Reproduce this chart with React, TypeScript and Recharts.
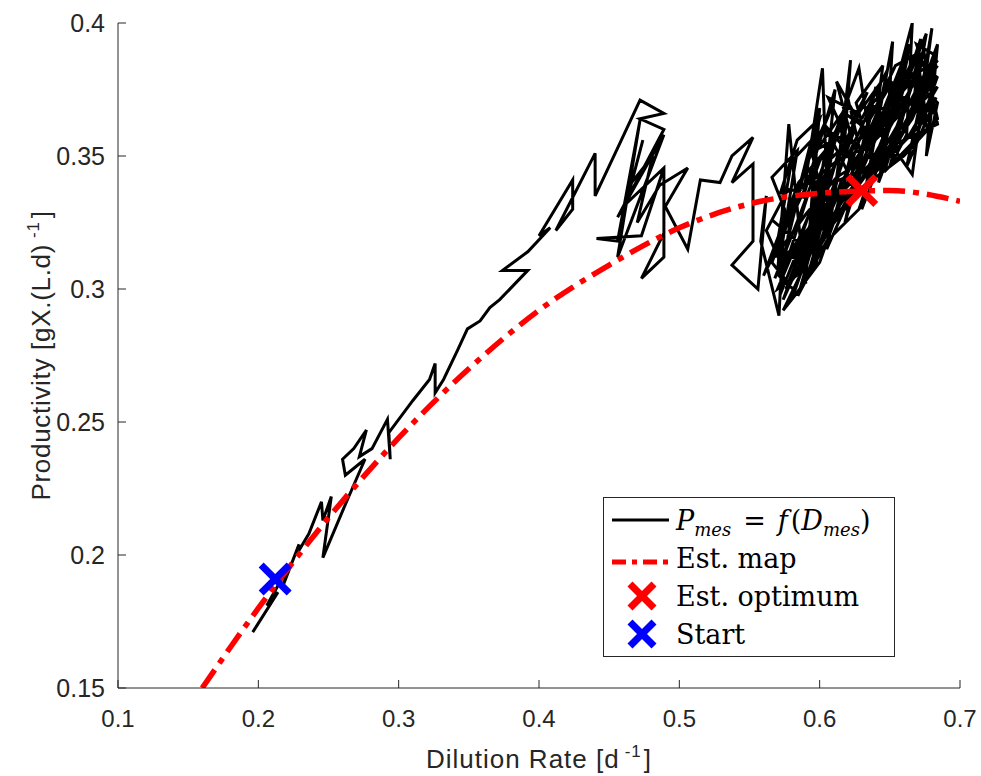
import React from "react"
import { ComposedChart, Line, Scatter, XAxis, YAxis, Label } from "recharts"

const xTicks = [0.1, 0.2, 0.3, 0.4, 0.5, 0.6, 0.7]
const yTicks = [0.15, 0.2, 0.25, 0.3, 0.35, 0.4]

// estimated map
const mapD = [0.16, 0.2, 0.25, 0.3, 0.35, 0.4, 0.45, 0.5, 0.55, 0.6, 0.65, 0.7]
const mapP = [0.15, 0.18, 0.214, 0.244, 0.27, 0.292, 0.309, 0.323, 0.332, 0.336, 0.337, 0.333]

const optimum = { d: 0.63, p: 0.337 }
const start = { d: 0.212, p: 0.191 }

// measured productivity vs dilution rate, in time order
const traj: [number, number][] = [
  [0.196, 0.171], [0.214, 0.186], [0.206, 0.181], [0.222, 0.196], [0.218, 0.189], [0.229, 0.204],
  [0.227, 0.2], [0.236, 0.208], [0.245, 0.22], [0.246, 0.213], [0.252, 0.222], [0.246, 0.199],
  [0.262, 0.219], [0.276, 0.236], [0.262, 0.23], [0.26, 0.236], [0.268, 0.24], [0.277, 0.247],
  [0.272, 0.237], [0.281, 0.24], [0.292, 0.251], [0.294, 0.236], [0.293, 0.246], [0.31, 0.258],
  [0.322, 0.266], [0.326, 0.272], [0.326, 0.261], [0.332, 0.266], [0.342, 0.277], [0.349, 0.285],
  [0.358, 0.288], [0.365, 0.293], [0.372, 0.296], [0.392, 0.307], [0.374, 0.307], [0.392, 0.314],
  [0.408, 0.323], [0.4, 0.32], [0.424, 0.341], [0.424, 0.33], [0.412, 0.322], [0.44, 0.351],
  [0.44, 0.335], [0.456, 0.353], [0.472, 0.371], [0.489, 0.366], [0.472, 0.364], [0.489, 0.36],
  [0.456, 0.327], [0.489, 0.358], [0.456, 0.312], [0.472, 0.3635], [0.456, 0.318], [0.441, 0.319],
  [0.473, 0.32], [0.489, 0.3455], [0.489, 0.321], [0.473, 0.304], [0.489, 0.312], [0.489, 0.3455],
  [0.462, 0.332], [0.474, 0.356], [0.466, 0.34], [0.481, 0.35], [0.47, 0.325], [0.486, 0.339],
  [0.506, 0.3455], [0.49, 0.331], [0.506, 0.315], [0.515, 0.341], [0.529, 0.34], [0.5375, 0.35],
  [0.5525, 0.357], [0.5375, 0.34], [0.5525, 0.347], [0.5525, 0.318], [0.5375, 0.309],
  [0.556, 0.3], [0.562, 0.335], [0.558, 0.318], [0.571, 0.29], [0.575, 0.33], [0.566, 0.342],
  [0.584, 0.352], [0.57, 0.306], [0.578, 0.362], [0.586, 0.32], [0.59, 0.302], [0.596, 0.345],
  [0.58, 0.327], [0.6, 0.368], [0.593, 0.318], [0.574, 0.296], [0.604, 0.34], [0.611, 0.375],
  [0.588, 0.334], [0.602, 0.383], [0.606, 0.326], [0.597, 0.309], [0.617, 0.35], [0.622, 0.386],
  [0.61, 0.332], [0.583, 0.305], [0.614, 0.362], [0.626, 0.34], [0.605, 0.315], [0.62, 0.372],
  [0.632, 0.345], [0.596, 0.337], [0.628, 0.383], [0.636, 0.356], [0.618, 0.325], [0.64, 0.376],
  [0.646, 0.352], [0.63, 0.33], [0.652, 0.393], [0.648, 0.358], [0.624, 0.336], [0.638, 0.369],
  [0.66, 0.366], [0.642, 0.34], [0.656, 0.38], [0.666, 0.4], [0.662, 0.358], [0.65, 0.346],
  [0.67, 0.386], [0.676, 0.364], [0.654, 0.352], [0.666, 0.343], [0.68, 0.398], [0.672, 0.373],
  [0.658, 0.36], [0.684, 0.38], [0.668, 0.356], [0.646, 0.344], [0.674, 0.39], [0.682, 0.366],
  [0.66, 0.372], [0.64, 0.362], [0.664, 0.383], [0.678, 0.358], [0.684, 0.392], [0.666, 0.366],
  [0.65, 0.372], [0.676, 0.386], [0.684, 0.362], [0.636, 0.35], [0.612, 0.342], [0.59, 0.328],
  [0.568, 0.312], [0.58, 0.348], [0.598, 0.358], [0.574, 0.32], [0.56, 0.305], [0.585, 0.34],
  [0.604, 0.352], [0.592, 0.312], [0.576, 0.3], [0.6, 0.333], [0.616, 0.366], [0.595, 0.35],
  [0.608, 0.322], [0.624, 0.354], [0.612, 0.378], [0.631, 0.36], [0.615, 0.336], [0.638, 0.348],
  [0.626, 0.37], [0.645, 0.384], [0.634, 0.338], [0.658, 0.372], [0.644, 0.36], [0.663, 0.388],
  [0.654, 0.366], [0.672, 0.394], [0.667, 0.37], [0.68, 0.384], [0.67, 0.362], [0.683, 0.372],
  [0.662, 0.346], [0.675, 0.378], [0.657, 0.376], [0.642, 0.352], [0.628, 0.33], [0.605, 0.318],
  [0.585, 0.298], [0.571, 0.305], [0.589, 0.344], [0.606, 0.33], [0.62, 0.344], [0.603, 0.362],
  [0.626, 0.348], [0.644, 0.37], [0.632, 0.352], [0.65, 0.362], [0.668, 0.378], [0.684, 0.37],
  [0.676, 0.35], [0.682, 0.388], [0.669, 0.392], [0.679, 0.376], [0.684, 0.364],
  [0.66, 0.35], [0.63, 0.338], [0.6, 0.318], [0.578, 0.302], [0.566, 0.31], [0.58, 0.33],
  [0.572, 0.298], [0.59, 0.322], [0.582, 0.312], [0.6, 0.34], [0.586, 0.306], [0.57, 0.3],
  [0.594, 0.33], [0.61, 0.345], [0.59, 0.316], [0.575, 0.31], [0.598, 0.326], [0.614, 0.352],
  [0.596, 0.32], [0.58, 0.296], [0.6, 0.31], [0.62, 0.34], [0.604, 0.33], [0.588, 0.31],
  [0.606, 0.342], [0.625, 0.36], [0.608, 0.336], [0.592, 0.306], [0.612, 0.33], [0.63, 0.352],
  [0.615, 0.34], [0.598, 0.314], [0.62, 0.334], [0.64, 0.36], [0.622, 0.346], [0.602, 0.322],
  [0.628, 0.342], [0.648, 0.366], [0.632, 0.356], [0.61, 0.326], [0.636, 0.345], [0.655, 0.37],
  [0.64, 0.35], [0.618, 0.33], [0.645, 0.356], [0.664, 0.374], [0.65, 0.354], [0.634, 0.342],
  [0.656, 0.362], [0.674, 0.38], [0.66, 0.36], [0.642, 0.346], [0.666, 0.364], [0.682, 0.384],
  [0.668, 0.368], [0.65, 0.35], [0.672, 0.37], [0.684, 0.376], [0.664, 0.358], [0.64, 0.344],
  [0.616, 0.338], [0.594, 0.324], [0.572, 0.31], [0.562, 0.322], [0.578, 0.338], [0.566, 0.326],
  [0.584, 0.318], [0.574, 0.306], [0.592, 0.336], [0.58, 0.32], [0.568, 0.304], [0.586, 0.328],
  [0.6, 0.348], [0.582, 0.334], [0.57, 0.314], [0.59, 0.31], [0.604, 0.336], [0.594, 0.342],
  [0.612, 0.36], [0.6, 0.326], [0.586, 0.3], [0.574, 0.292], [0.596, 0.316], [0.61, 0.338],
  [0.622, 0.356], [0.606, 0.348], [0.618, 0.366], [0.634, 0.36], [0.62, 0.35], [0.638, 0.37],
  [0.652, 0.378], [0.636, 0.364], [0.654, 0.384], [0.668, 0.388], [0.652, 0.37], [0.672, 0.382],
  [0.684, 0.386], [0.67, 0.376], [0.684, 0.38],
  [0.658, 0.366], [0.636, 0.354], [0.612, 0.348], [0.588, 0.338], [0.572, 0.336], [0.584, 0.356],
  [0.6, 0.364], [0.59, 0.346], [0.61, 0.37], [0.596, 0.352], [0.618, 0.358], [0.606, 0.372],
  [0.628, 0.366], [0.614, 0.35], [0.634, 0.374], [0.622, 0.362], [0.644, 0.378], [0.63, 0.364],
  [0.648, 0.382], [0.638, 0.356], [0.658, 0.38], [0.646, 0.368], [0.664, 0.392], [0.656, 0.37],
  [0.676, 0.396], [0.668, 0.372], [0.684, 0.384],
]

const trajData = traj.map(([d, p]) => ({ d, p }))
const mapData = mapD.map((d, i) => ({ d, p: mapP[i] }))

const AX = "#262626"
const SANS = "'Liberation Sans', Arial, Helvetica, sans-serif"
const SERIF = "'DejaVu Serif', 'Liberation Serif', serif"

function Cross({ cx, cy, color, size = 14 }: any) {
  return (
    <g>
      <line x1={cx - size} y1={cy - size} x2={cx + size} y2={cy + size} stroke={color} strokeWidth={7} />
      <line x1={cx - size} y1={cy + size} x2={cx + size} y2={cy - size} stroke={color} strokeWidth={7} />
    </g>
  )
}

function YTitle({ viewBox }: any) {
  const x = viewBox.x + 50
  const y = viewBox.y + viewBox.height / 2
  return (
    <text x={x} y={y} transform={`rotate(-90 ${x} ${y})`} textAnchor="middle" letterSpacing={0.7}
      fontFamily={SANS} fontSize={26} fill={AX}>
      Productivity [gX.(L.d)<tspan dx={6} dy={-11} fontSize={17}>-1</tspan><tspan dx={3} dy={11}>]</tspan>
    </text>
  )
}

function XTitle({ viewBox }: any) {
  const x = viewBox.x + viewBox.width / 2
  const y = viewBox.y + 80
  return (
    <text x={x} y={y} textAnchor="middle" fontFamily={SANS} fontSize={26} fill={AX} letterSpacing={1}>
      Dilution Rate [d<tspan dx={5} dy={-11} fontSize={17}>-1</tspan><tspan dx={2} dy={11}>]</tspan>
    </text>
  )
}

const rowStyle: React.CSSProperties = { display: "flex", alignItems: "center", height: 38 }
const iconStyle: React.CSSProperties = { width: 72, flex: "none" }

function MapLegend() {
  return (
    <div style={{
      position: "absolute", left: 603, top: 497, width: 292, height: 160, border: `1.5px solid ${AX}`,
      background: "#fff", fontFamily: SERIF, fontSize: 27, color: "#000", paddingTop: 3, boxSizing: "border-box",
    }}>
      <div style={rowStyle}>
        <svg width={72} height={30} style={iconStyle}><line x1={8} y1={15} x2={65} y2={15} stroke="#000" strokeWidth={3} /></svg>
        <span>
          <i>P</i><i style={{ fontSize: 18, position: "relative", top: 6 }}>mes</i>
          <span style={{ margin: "0 12px" }}>=</span>
          <i>f</i><span style={{ marginLeft: 3 }}>(</span><i>D</i><i style={{ fontSize: 18, position: "relative", top: 6 }}>mes</i>)
        </span>
      </div>
      <div style={rowStyle}>
        <svg width={72} height={30} style={iconStyle}><line x1={8} y1={19} x2={65} y2={19} stroke="#ff0000" strokeWidth={5} strokeDasharray="14 6 5 6" /></svg>
        <span>Est. map</span>
      </div>
      <div style={rowStyle}>
        <svg width={72} height={36} style={iconStyle}><Cross cx={38} cy={18} color="#ff0000" size={12} /></svg>
        <span>Est. optimum</span>
      </div>
      <div style={rowStyle}>
        <svg width={72} height={36} style={iconStyle}><Cross cx={38} cy={18} color="#0000ff" size={12} /></svg>
        <span>Start</span>
      </div>
    </div>
  )
}

export default function App() {
  return (
    <div style={{ position: "relative", width: 981, height: 776, background: "#fff" }}>
      <style>{"body{margin:0}"}</style>
      <ComposedChart width={981} height={776} margin={{ top: 23, right: 21, bottom: 0, left: 0 }}>
        <XAxis type="number" dataKey="d" domain={[0.1, 0.7]} ticks={xTicks} interval={0} allowDataOverflow
          height={88} stroke={AX} tickSize={-8} tickMargin={30}
          tick={{ fill: AX, fontSize: 24, fontFamily: SANS }}>
          <Label content={XTitle} />
        </XAxis>
        <YAxis type="number" dataKey="p" domain={[0.15, 0.4]} ticks={yTicks} interval={0} allowDataOverflow
          width={118} stroke={AX} tickSize={-8} tickMargin={21}
          tick={{ fill: AX, fontSize: 25, fontFamily: SANS }}>
          <Label content={YTitle} />
        </YAxis>
        <Line data={trajData} dataKey="p" type="linear" stroke="#000" strokeWidth={3} dot={false}
          isAnimationActive={false} />
        <Line data={mapData} dataKey="p" type="monotone" stroke="#ff0000" strokeWidth={5.5}
          strokeDasharray="22 8 6 8" dot={false} isAnimationActive={false} />
        <Scatter data={[optimum]} dataKey="p" isAnimationActive={false}
          shape={(props: any) => <Cross cx={props.cx} cy={props.cy} color="#ff0000" />} />
        <Scatter data={[start]} dataKey="p" isAnimationActive={false}
          shape={(props: any) => <Cross cx={props.cx} cy={props.cy} color="#0000ff" />} />
      </ComposedChart>
      <MapLegend />
    </div>
  )
}
